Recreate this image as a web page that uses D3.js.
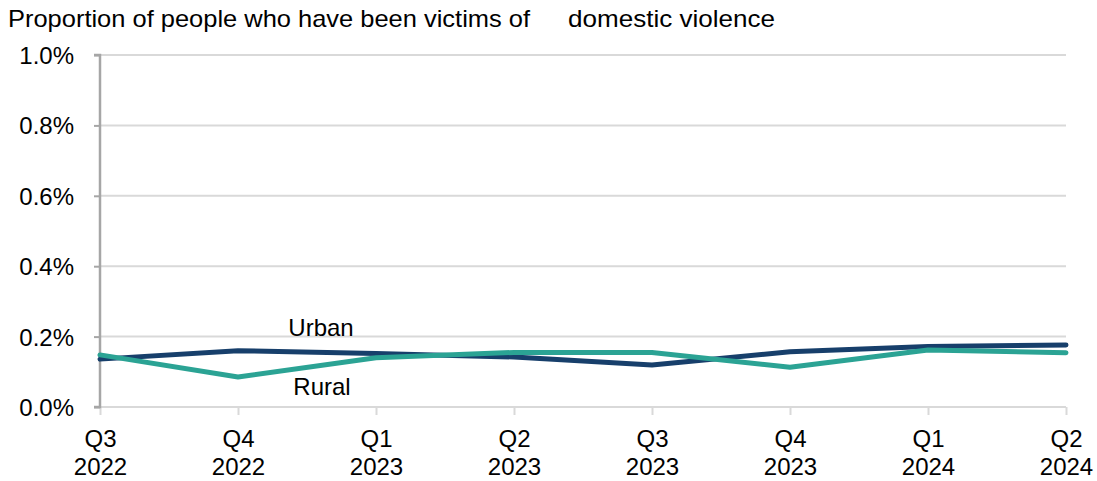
<!DOCTYPE html>
<html><head><meta charset="utf-8">
<script src="https://cdn.jsdelivr.net/npm/d3@7"></script>
<style>body{margin:0;background:#fff}svg{display:block;font-family:"Liberation Sans",Arial,sans-serif}</style>
</head><body>
<svg id="c" width="1097" height="481"></svg>
<script>
const categories = [["Q3","2022"],["Q4","2022"],["Q1","2023"],["Q2","2023"],["Q3","2023"],["Q4","2023"],["Q1","2024"],["Q2","2024"]];
const urban = [0.136, 0.160, 0.152, 0.142, 0.119, 0.157, 0.172, 0.176];
const rural = [0.148, 0.085, 0.140, 0.155, 0.155, 0.113, 0.162, 0.154];
const yTicks = [0, 0.2, 0.4, 0.6, 0.8, 1.0];
const titleParts = ["Proportion of people who have been victims of", "domestic violence"];

const FS = 24;
const svg = d3.select("#c");
const x = d3.scalePoint().domain(d3.range(categories.length)).range([100, 1066]);
const y = d3.scaleLinear().domain([0, 1]).range([407, 55]);

svg.append("text").attr("x", 8).attr("y", 27).attr("font-size", FS).attr("fill", "#000")
  .attr("textLength", 522).attr("lengthAdjust", "spacingAndGlyphs").text(titleParts[0]);
svg.append("text").attr("x", 568).attr("y", 27).attr("font-size", FS).attr("fill", "#000")
  .attr("textLength", 207).attr("lengthAdjust", "spacingAndGlyphs").text(titleParts[1]);

// gridlines
svg.append("g").selectAll("line").data(yTicks.slice(1)).join("line")
  .attr("x1", 100).attr("x2", 1066).attr("y1", d => y(d)).attr("y2", d => y(d))
  .attr("stroke", "#d9d9d9").attr("stroke-width", 2);

// x axis
const xa = svg.append("g").attr("transform", "translate(0,407)")
  .call(d3.axisBottom(x).tickSize(8).tickFormat(""));
xa.select(".domain").attr("stroke", "#d9d9d9").attr("stroke-width", 2).attr("d", "M100,0H1066");
xa.selectAll(".tick line").attr("stroke", "#d9d9d9").attr("stroke-width", 2);
xa.selectAll(".tick").each(function(d) {
  const t = d3.select(this).append("text").attr("fill", "#000").attr("font-size", FS).attr("text-anchor", "middle");
  t.append("tspan").attr("x", 0).attr("y", 40).text(categories[d][0]);
  t.append("tspan").attr("x", 0).attr("y", 68).text(categories[d][1]);
});

// y axis
const ya = svg.append("g").attr("transform", "translate(100,0)")
  .call(d3.axisLeft(y).tickValues(yTicks).tickSize(6).tickFormat(d => d.toFixed(1) + "%"));
ya.select(".domain").attr("stroke", "#a6a6a6").attr("stroke-width", 2.5).attr("d", "M-6,55H0V407H-6");
ya.selectAll(".tick line").attr("stroke", "#a6a6a6").attr("stroke-width", 2);
ya.selectAll(".tick text").attr("fill", "#000").attr("font-size", FS).attr("x", -26).attr("dy", "0.35em")
  .attr("font-family", "Liberation Sans, Arial, sans-serif");

const line = d3.line().x((d, i) => x(i)).y(d => y(d));
svg.append("path").datum(urban).attr("d", line).attr("fill", "none")
  .attr("stroke", "#173f6b").attr("stroke-width", 5).attr("stroke-linecap", "round").attr("stroke-linejoin", "round");
svg.append("path").datum(rural).attr("d", line).attr("fill", "none")
  .attr("stroke", "#2ba394").attr("stroke-width", 5).attr("stroke-linecap", "round").attr("stroke-linejoin", "round");

svg.append("text").attr("x", 321).attr("y", 336).attr("text-anchor", "middle").attr("font-size", FS).text("Urban");
svg.append("text").attr("x", 322).attr("y", 395).attr("text-anchor", "middle").attr("font-size", FS).text("Rural");
</script>
</body></html>
